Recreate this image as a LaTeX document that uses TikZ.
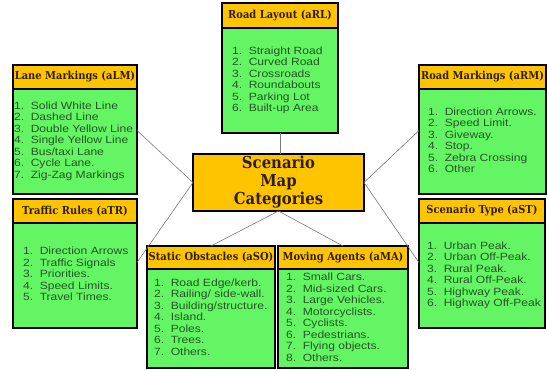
\documentclass[tikz,border=0pt]{standalone}
\usepackage{fontspec}
\newfontfamily\headfont[FakeStretch=0.9]{DejaVu Serif}
\newfontfamily\itemfont[FakeStretch=1.15]{Liberation Sans}
\usetikzlibrary{positioning}
\definecolor{headorange}{RGB}{255,196,0}
\definecolor{bodygreen}{RGB}{100,245,100}
\definecolor{itemtext}{RGB}{35,85,35}
\definecolor{headtext}{RGB}{45,30,0}
\definecolor{linkgray}{RGB}{120,120,120}

\begin{document}
\begin{tikzpicture}[
    x=1pt, y=1pt,
    node distance=0pt,
    box/.style={draw, line width=1.5pt, outer sep=0pt, inner sep=0pt},
    head/.style={box, fill=headorange, text=headtext, minimum height=24pt, font=\headfont\bfseries\fontsize{11}{13}\selectfont},
    body/.style={box, fill=bodygreen, minimum height=105pt},
    items/.style={anchor=west, inner sep=0pt, text=itemtext, font=\itemfont\fontsize{10.5}{11.5}\selectfont},
    hub/.style={box, fill=headorange, text=headtext, align=center, minimum width=171pt, minimum height=57pt, font=\headfont\bfseries\fontsize{16.5}{18}\selectfont},
    link/.style={draw=linkgray, line width=0.6pt}
]
\useasboundingbox (0,0) rectangle (547,370);

% centre
\node[hub] (hub) at (278.5,187.5) {Scenario\\Map\\Categories};

% top
\node[head, minimum width=116pt, minimum height=25pt] (rl-head) at (280,354.5) {Road Layout (aRL)};
\node[body, minimum width=116pt, below=of rl-head] (rl) {};
\node[items] (rl-list) at ([xshift=10pt]rl.west) {
  \begin{tabular}{@{}l@{\hspace{6.5pt}}l@{}}
  1. & Straight Road \\
  2. & Curved Road \\
  3. & Crossroads \\
  4. & Roundabouts \\
  5. & Parking Lot \\
  6. & Built-up Area
  \end{tabular}
};

% left
\node[head, minimum width=124pt] (lm-head) at (75,293) {Lane Markings (aLM)};
\node[body, minimum width=124pt, below=of lm-head] (lm) {};
\node[items] (lm-list) at ([xshift=1pt]lm.west) {
  \begin{tabular}{@{}l@{\hspace{6.5pt}}l@{}}
  1. & Solid White Line \\
  2. & Dashed Line \\
  3. & Double Yellow Line \\
  4. & Single Yellow Line \\
  5. & Bus/taxi Lane \\
  6. & Cycle Lane. \\
  7. & Zig-Zag Markings
  \end{tabular}
};

\node[head, minimum width=124pt] (tr-head) at (75,159) {Traffic Rules (aTR)};
\node[body, minimum width=124pt, below=of tr-head] (tr) {};
\node[items] (tr-list) at ([xshift=10pt]tr.west) {
  \begin{tabular}{@{}l@{\hspace{6.5pt}}l@{}}
  1. & Direction Arrows \\
  2. & Traffic Signals \\
  3. & Priorities. \\
  4. & Speed Limits. \\
  5. & Travel Times.
  \end{tabular}
};

% right
\node[head, minimum width=127pt] (rm-head) at (482.5,293) {Road Markings (aRM)};
\node[body, minimum width=127pt, below=of rm-head] (rm) {};
\node[items] (rm-list) at ([xshift=9pt]rm.west) {
  \begin{tabular}{@{}l@{\hspace{6.5pt}}l@{}}
  1. & Direction Arrows. \\
  2. & Speed Limit. \\
  3. & Giveway. \\
  4. & Stop. \\
  5. & Zebra Crossing \\
  6. & Other
  \end{tabular}
};

\node[head, minimum width=126pt] (st-head) at (482,159) {Scenario Type (aST)};
\node[body, minimum width=126pt, below=of st-head] (st) {};
\node[items] (st-list) at ([xshift=8pt]st.west) {
  \begin{tabular}{@{}l@{\hspace{6.5pt}}l@{}}
  1. & Urban Peak. \\
  2. & Urban Off-Peak. \\
  3. & Rural Peak. \\
  4. & Rural Off-Peak. \\
  5. & Highway Peak. \\
  6. & Highway Off-Peak
  \end{tabular}
};

% bottom
\node[head, minimum width=128pt, minimum height=23pt] (so-head) at (211,112.5) {Static Obstacles (aSO)};
\node[body, minimum width=128pt, minimum height=99pt, below=of so-head] (so) {};
\node[items] (so-list) at ([xshift=7pt]so.west) {
  \begin{tabular}{@{}l@{\hspace{6.5pt}}l@{}}
  1. & Road Edge/kerb. \\
  2. & Railing/ side-wall. \\
  3. & Building/structure. \\
  4. & Island. \\
  5. & Poles. \\
  6. & Trees. \\
  7. & Others.
  \end{tabular}
};

\node[head, minimum width=130pt, minimum height=23pt] (ma-head) at (343,112.5) {Moving Agents (aMA)};
\node[body, minimum width=130pt, minimum height=99pt, below=of ma-head] (ma) {};
\node[items] (ma-list) at ([xshift=8pt]ma.west) {
  \begin{tabular}{@{}l@{\hspace{6.5pt}}l@{}}
  1. & Small Cars. \\
  2. & Mid-sized Cars. \\
  3. & Large Vehicles. \\
  4. & Motorcyclists. \\
  5. & Cyclists. \\
  6. & Pedestrians. \\
  7. & Flying objects. \\
  8. & Others.
  \end{tabular}
};

% links
\draw[link] (rl.south) -- (rl.south |- hub.north);
\draw[link] (hub.west) -- ([yshift=11pt]lm.east);
\draw[link] (hub.west) -- ([yshift=13pt]tr.east);
\draw[link] (hub.east) -- ([yshift=11pt]rm.west);
\draw[link] (hub.east) -- ([yshift=13pt]st.west);
\draw[link] (hub.south) -- (so-head.north);
\draw[link] (hub.south) -- (ma-head.north);
\end{tikzpicture}
\end{document}
